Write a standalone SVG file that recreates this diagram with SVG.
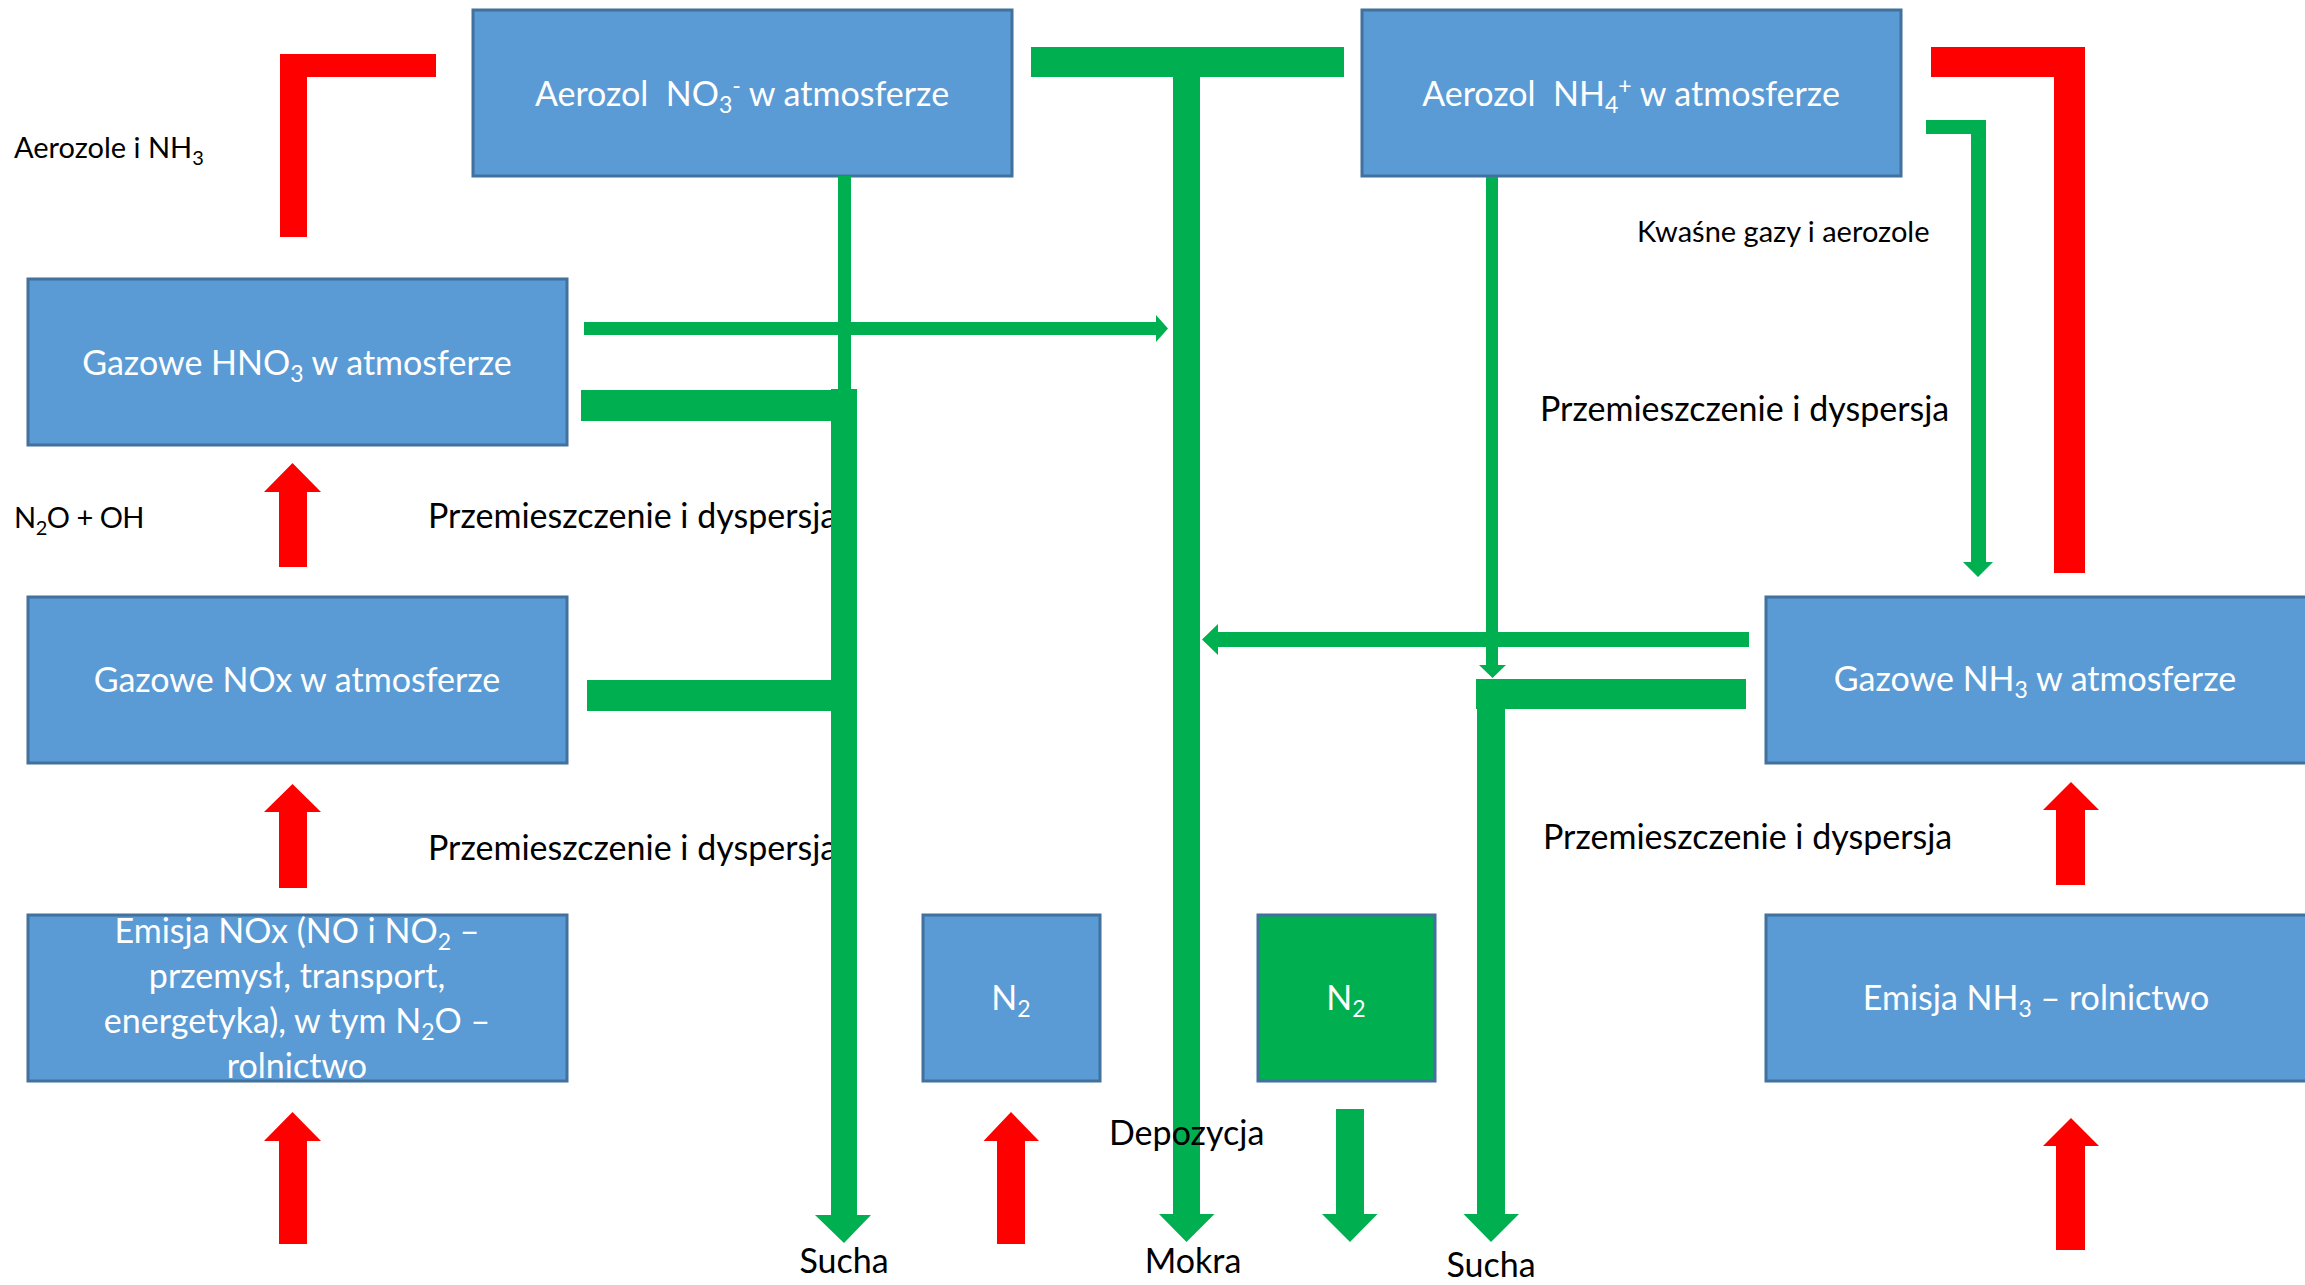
<svg xmlns="http://www.w3.org/2000/svg" width="2305" height="1285" viewBox="0 0 2305 1285">
<style>
.box{fill:#5B9BD5;stroke:#41719C;stroke-width:3}
.gbox{fill:#00B050;stroke:#41719C;stroke-width:3}
.bt{font-family:Lato,"Noto Sans",sans-serif;font-size:34px;fill:#FFFFFF;text-anchor:middle}
.lb{font-family:Lato,"Noto Sans",sans-serif;font-size:34px;fill:#000000}
.sm{font-family:Lato,"Noto Sans",sans-serif;font-size:29px;fill:#000000}
.g{fill:#00B050}
.r{fill:#FF0000}
</style>
<rect width="2305" height="1285" fill="#FFFFFF"/>
<g id="labels">
<text class="sm" x="14" y="158">Aerozole i NH<tspan font-size="20" dy="7">3</tspan></text>
<text class="sm" x="14" y="528" letter-spacing="-0.5">N<tspan font-size="20" dy="7">2</tspan><tspan dy="-7">O + OH</tspan></text>
<text class="sm" x="1637" y="242">Kwaśne gazy i aerozole</text>
<text class="lb" x="428" y="528">Przemieszczenie i dyspersja</text>
<text class="lb" x="428" y="860">Przemieszczenie i dyspersja</text>
<text class="lb" x="1540" y="421">Przemieszczenie i dyspersja</text>
<text class="lb" x="1543" y="849">Przemieszczenie i dyspersja</text>
<text class="lb" x="844" y="1273" text-anchor="middle">Sucha</text>
<text class="lb" x="1193" y="1273" text-anchor="middle">Mokra</text>
<text class="lb" x="1491" y="1277" text-anchor="middle">Sucha</text>
</g>
<g id="node-aerozol-no3">
<rect class="box" x="473" y="10" width="539" height="166"/>
<text class="bt" x="742" y="106" xml:space="preserve">Aerozol  NO<tspan font-size="23" dy="7">3</tspan><tspan font-size="23" dy="-19">-</tspan><tspan dy="12"> w atmosferze</tspan></text>
</g>
<g id="node-aerozol-nh4">
<rect class="box" x="1362" y="10" width="539" height="166"/>
<text class="bt" x="1631" y="106" xml:space="preserve">Aerozol  NH<tspan font-size="23" dy="7">4</tspan><tspan font-size="23" dy="-19">+</tspan><tspan dy="12"> w atmosferze</tspan></text>
</g>
<g id="node-hno3">
<rect class="box" x="28" y="279" width="539" height="166"/>
<text class="bt" x="297" y="375">Gazowe HNO<tspan font-size="23" dy="7">3</tspan><tspan dy="-7"> w atmosferze</tspan></text>
</g>
<g id="node-nox">
<rect class="box" x="28" y="597" width="539" height="166"/>
<text class="bt" x="297" y="692">Gazowe NOx w atmosferze</text>
</g>
<g id="node-nh3">
<rect class="box" x="1766" y="597" width="545" height="166"/>
<text class="bt" x="2035" y="691">Gazowe NH<tspan font-size="23" dy="7">3</tspan><tspan dy="-7"> w atmosferze</tspan></text>
</g>
<g id="node-emisja-nox">
<rect class="box" x="28" y="915" width="539" height="166"/>
<text class="bt" x="297" y="943">Emisja NOx (NO i NO<tspan font-size="23" dy="7">2</tspan><tspan dy="-7"> –</tspan></text>
<text class="bt" x="297" y="988">przemysł, transport,</text>
<text class="bt" x="297" y="1033">energetyka), w tym N<tspan font-size="23" dy="7">2</tspan><tspan dy="-7">O –</tspan></text>
<text class="bt" x="297" y="1078">rolnictwo</text>
</g>
<g id="node-n2-blue">
<rect class="box" x="923" y="915" width="177" height="166"/>
<text class="bt" x="1011" y="1010">N<tspan font-size="23" dy="7">2</tspan></text>
</g>
<g id="node-n2-green">
<rect class="gbox" x="1258" y="915" width="177" height="166"/>
<text class="bt" x="1346" y="1010">N<tspan font-size="23" dy="7">2</tspan></text>
</g>
<g id="node-emisja-nh3">
<rect class="box" x="1766" y="915" width="545" height="166"/>
<text class="bt" x="2036" y="1010">Emisja NH<tspan font-size="23" dy="7">3</tspan><tspan dy="-7"> – rolnictwo</tspan></text>
</g>
<g id="connectors">
<polygon class="r" points="280,54 436,54 436,77 307,77 307,237 280,237"/>
<polygon class="r" points="1931,47 2085,47 2085,573 2054,573 2054,77 1931,77"/>
<polygon class="r" points="279,567 279,492 264,492 292.5,463 321,492 307,492 307,567"/>
<polygon class="r" points="279,888 279,812 264,812 292.5,784 321,812 307,812 307,888"/>
<polygon class="r" points="279,1244 279,1141 264,1141 292.5,1112 321,1141 307,1141 307,1244"/>
<polygon class="r" points="997,1244 997,1141 983.5,1141 1011,1112 1039,1141 1025,1141 1025,1244"/>
<polygon class="r" points="2056,885 2056,810 2043,810 2071,782 2099,810 2085,810 2085,885"/>
<polygon class="r" points="2056,1250 2056,1146 2043,1146 2071,1118 2099,1146 2085,1146 2085,1250"/>
<rect class="g" x="1031" y="47" width="313" height="30"/>
<polygon class="g" points="1173,77 1200,77 1200,1214 1214.5,1214 1186.5,1242 1159,1214 1173,1214"/>
<rect class="g" x="838" y="176" width="13" height="214"/>
<polygon class="g" points="831,389 857,389 857,1215 871,1215 844,1243 815,1215 831,1215"/>
<polygon class="g" points="584,322 1156,322 1156,315 1168,328.5 1156,342 1156,335 584,335"/>
<rect class="g" x="581" y="390" width="276" height="31"/>
<rect class="g" x="587" y="680" width="270" height="31"/>
<polygon class="g" points="1486,177 1498,177 1498,665 1506,665 1492.5,678 1479,665 1486,665"/>
<polygon class="g" points="1926,120 1986,120 1986,562 1993,562 1978,577 1963,562 1971,562 1971,134 1926,134"/>
<polygon class="g" points="1749,632 1218,632 1218,624 1202,639.5 1218,655 1218,647 1749,647"/>
<rect class="g" x="1476" y="679" width="270" height="30"/>
<polygon class="g" points="1477,709 1505,709 1505,1214 1519,1214 1491,1242 1463.5,1214 1477,1214"/>
<polygon class="g" points="1336,1109 1364,1109 1364,1214 1377.5,1214 1350,1242 1322,1214 1336,1214"/>
</g>
<g id="label-depozycja">
<text class="lb" x="1109" y="1145">Depozycja</text>
</g>
</svg>
